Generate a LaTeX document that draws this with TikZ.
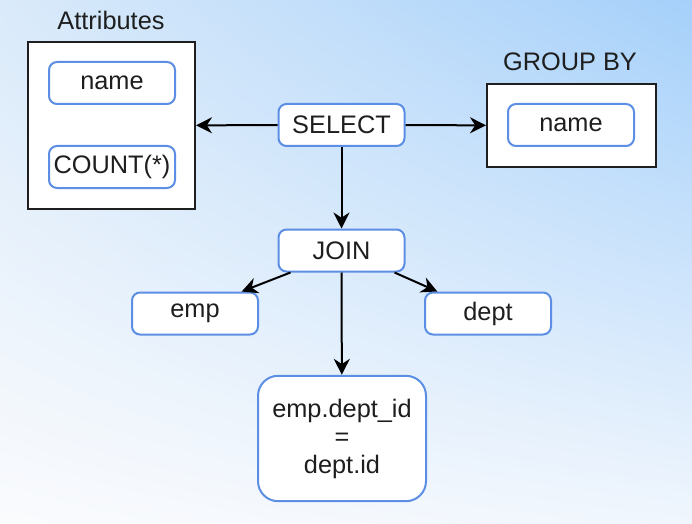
\documentclass[tikz,border=0pt]{standalone}
\usepackage{fontspec}
\setmainfont{Liberation Sans}
\usetikzlibrary{arrows.meta,shadings}
\definecolor{boxblue}{RGB}{92,142,228}
\definecolor{inkgrey}{RGB}{30,30,30}
\definecolor{bgul}{RGB}{218,234,250}
\definecolor{bgur}{RGB}{165,208,250}
\definecolor{bgll}{RGB}{250,251,253}
\definecolor{bglr}{RGB}{240,246,253}
\tikzset{
  opbox/.style={draw=boxblue,line width=1.5pt,fill=white,rounded corners=6pt,
    minimum width=94.5pt,minimum height=31.5pt,inner sep=0.75pt,text=inkgrey,
    font=\fontsize{19}{21}\selectfont},
  groupbox/.style={draw=inkgrey,line width=1.5pt,fill=white,inner sep=0pt},
  grouplabel/.style={text=inkgrey,inner sep=0.75pt,font=\fontsize{19}{21}\selectfont},
  link/.style={draw=black,line width=1.5pt,-{Stealth[length=12pt,width=12pt]}}
}

\begin{document}
\begin{tikzpicture}[x=0.75pt,y=0.75pt,yscale=-1,xscale=1]
% background
\shade[upper left=bgul,upper right=bgur,lower left=bgll,lower right=bglr]
  (0,0) rectangle (692,524);
\useasboundingbox (0,0) rectangle (692,524);

% Group Boxes
\node [groupbox,minimum width=125.25pt,minimum height=125.25pt] (attrbox) at (111.5,125.5) {};
\node [groupbox,minimum width=126.75pt,minimum height=62.25pt] (groupbybox) at (571.5,125.5) {};
% Group Labels
\node [grouplabel] (attrlabel) at (111,20) {Attributes};
\node [grouplabel] (groupbylabel) at (570,62) {GROUP BY};

% Text Node
\node [opbox] (attrname) at (112,83) {name};
% Text Node
\node [opbox] (attrcount) at (112,167) {COUNT(*)};
% Text Node
\node [opbox] (select) at (341.5,125) {SELECT};
% Text Node
\node [opbox] (groupname) at (571,125) {name};
% Text Node
\node [opbox] (join) at (341.5,250.5) {JOIN};
% Text Node
\node [opbox] (emp) at (195,313.5) {emp};
% Text Node
\node [opbox] (dept) at (488,313.5) {dept};
% Text Node
\node [opbox,minimum width=126pt,minimum height=94pt,rounded corners=15pt,align=center] (cond) at (342,438.5)
  {emp.dept\_id\\=\\dept.id};

% Connection
\draw [link] (select) -- (attrbox);
% Connection
\draw [link] (select) -- (groupbybox);
% Connection
\draw [link] (select) -- (join);
% Connection
\draw [link] (join.south west) ++(13,0) -- ([xshift=-13pt]emp.north east);
% Connection
\draw [link] (join.south east) ++(-11,0) -- ([xshift=10pt]dept.north west);
% Connection
\draw [link] (join) -- (cond);

\end{tikzpicture}
\end{document}
